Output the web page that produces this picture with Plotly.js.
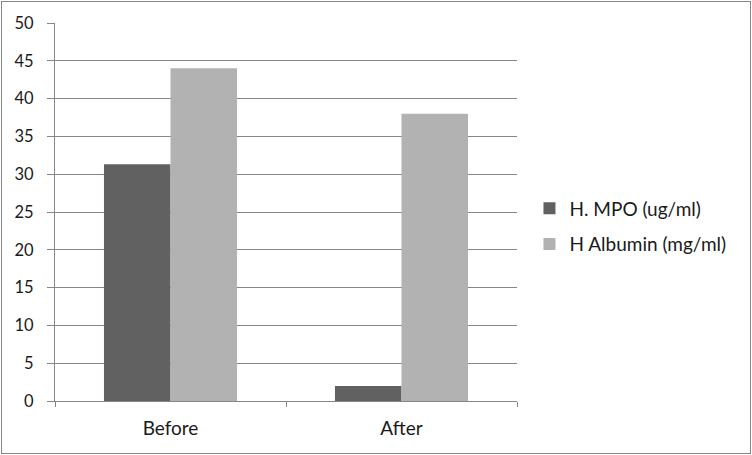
<!DOCTYPE html>
<html><head><meta charset="utf-8">
<script src="https://cdn.plot.ly/plotly-3.0.1.min.js"></script>
<style>html,body{margin:0;padding:0;background:#fff}#wrap{position:relative;width:752px;height:455px}#chart{width:752px;height:455px}#frame{position:absolute;left:1px;top:1px;width:748px;height:451px;border:1px solid #868686;pointer-events:none}</style>
</head><body><div id="wrap"><div id="chart"></div><div id="frame"></div></div>
<script>
const categories = ["Before", "After"];
const mpoValues = [31.3, 2];
const albuminValues = [44, 38];
const seriesNames = ["H. MPO (ug/ml)", "H Albumin (mg/ml)"];
const yTicks = [0, 5, 10, 15, 20, 25, 30, 35, 40, 45, 50];

const fam = "Lato, 'Open Sans', sans-serif";
const numFont = {family: fam, size: 16.5, color: "#1a1a1a"};
const txtFont = {family: fam, size: 19, color: "#1a1a1a"};
const data = [
  {type: "bar", x: categories, y: mpoValues, name: seriesNames[0], marker: {color: "#616161"}, legendgroup: "a"},
  {type: "bar", x: categories, y: albuminValues, name: seriesNames[1], marker: {color: "#b2b2b2"}, legendgroup: "b"}
];
const layout = {
  width: 752, height: 455,
  margin: {l: 55, r: 235, t: 23, b: 54},
  paper_bgcolor: "#fff", plot_bgcolor: "#fff",
  font: numFont,
  barmode: "group", bargap: 0.424, bargroupgap: 0,
  showlegend: true,
  legend: {x: 1.027, xanchor: "left", y: 0.4616, yanchor: "middle", font: txtFont, tracegroupgap: 8, bgcolor: "rgba(0,0,0,0)"},
  xaxis: {
    type: "category", tickson: "boundaries", ticks: "outside", ticklen: 5, tickcolor: "#868686", tickwidth: 1,
    showline: true, linecolor: "#868686", linewidth: 1, showgrid: false, ticklabelstandoff: 10,
    tickfont: txtFont
  },
  yaxis: {
    range: [0, 50], tickvals: yTicks, ticktext: yTicks.map(String), ticks: "outside", ticklen: 7,
    tickcolor: "#868686", showline: true, linecolor: "#868686", showgrid: true, gridcolor: "#868686", gridwidth: 1,
    zeroline: false, ticklabelstandoff: 10, tickfont: numFont
  }
};
Plotly.newPlot("chart", data, layout, {displayModeBar: false, staticPlot: true});
</script></body></html>
